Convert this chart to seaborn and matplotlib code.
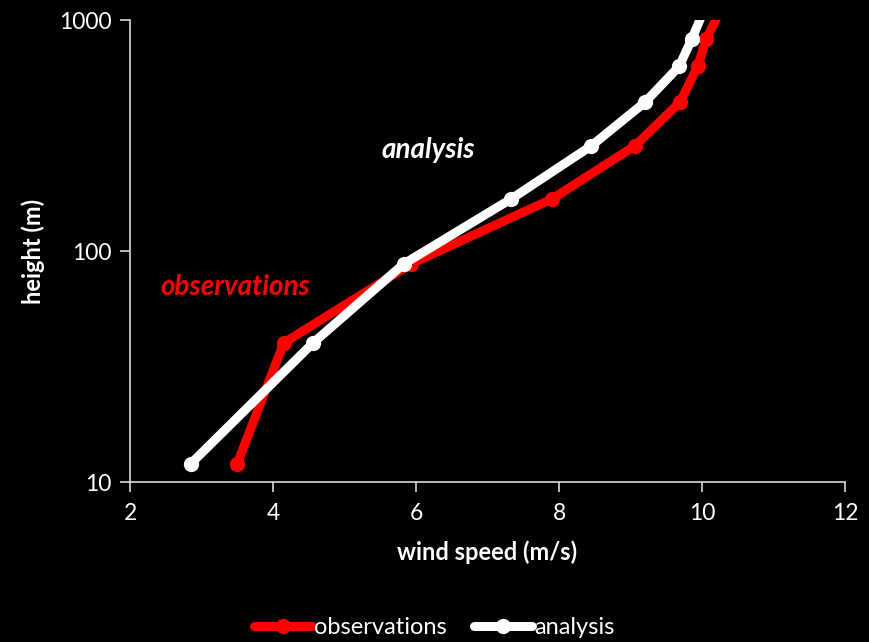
import matplotlib
matplotlib.use("Agg")
import matplotlib.pyplot as plt
import seaborn as sns
import pandas as pd

heights = [12, 40, 88, 168, 285, 440, 630, 830, 1250]
obs_speed = [3.50, 4.15, 5.93, 7.90, 9.06, 9.69, 9.94, 10.06, 10.35]
ana_speed = [2.85, 4.56, 5.83, 7.33, 8.45, 9.20, 9.68, 9.86, 10.10]
series_names = ["observations", "analysis"]
series_colors = ["#ff0000", "#ffffff"]
x_ticks = [2, 4, 6, 8, 10, 12]
y_ticks = [10, 100, 1000]

df = pd.concat([
    pd.DataFrame({"speed": obs_speed, "height": heights, "series": series_names[0]}),
    pd.DataFrame({"speed": ana_speed, "height": heights, "series": series_names[1]}),
], ignore_index=True)

sns.set_style("dark")
plt.rcParams["font.family"] = ["Lato", "DejaVu Sans"]

fig = plt.figure(figsize=(8.69, 6.42), dpi=100, facecolor="black")
ax = fig.add_axes([0.1496, 0.2492, 0.8228, 0.7196])
ax.set_facecolor("black")

sns.lineplot(data=df, x="speed", y="height", hue="series", palette=dict(zip(series_names, series_colors)),
             marker="o", markersize=11, linewidth=6.5, markeredgewidth=0, sort=False,
             estimator=None, ax=ax, legend=True, clip_on=True)

ax.set_yscale("log")
ax.set_xlim(2, 12)
ax.set_ylim(10, 1000)
ax.set_xticks(x_ticks)
ax.set_xticklabels([str(t) for t in x_ticks])
ax.set_yticks(y_ticks)
ax.set_yticklabels([str(t) for t in y_ticks])
ax.minorticks_off()
ax.grid(False)

for s in ["top", "right"]:
    ax.spines[s].set_visible(False)
for s in ["left", "bottom"]:
    ax.spines[s].set_visible(True)
    ax.spines[s].set_color("#d9d9d9")
    ax.spines[s].set_linewidth(1.2)

ax.tick_params(axis="both", colors="#d9d9d9", labelcolor="white", labelsize=16.5,
               direction="out", length=7, width=1.2, bottom=True, left=True)
ax.tick_params(axis="x", pad=8)
ax.tick_params(axis="y", pad=6)

ax.set_xlabel("wind speed (m/s)", color="white", fontsize=17, fontweight="bold", labelpad=12)
ax.set_ylabel("height (m)", color="white", fontsize=17, fontweight="bold", labelpad=10)

ax.text(5.52, 273, "analysis", color="white", fontsize=20, fontweight="bold", style="italic",
        ha="left", va="center")
ax.text(2.42, 70, "observations", color="#ff0000", fontsize=20, fontweight="bold", style="italic",
        ha="left", va="center")

handles, labels = ax.get_legend_handles_labels()
leg = ax.legend(handles, labels, loc="center", bbox_to_anchor=(0.5, 0.022), bbox_transform=fig.transFigure,
                ncol=2, frameon=False, fontsize=17, handlelength=2.45, handletextpad=0.1,
                columnspacing=1.15, labelcolor="white")
for h in leg.legend_handles:
    h.set_linewidth(6.5)

fig.savefig("out.png", dpi=100, facecolor="black")
